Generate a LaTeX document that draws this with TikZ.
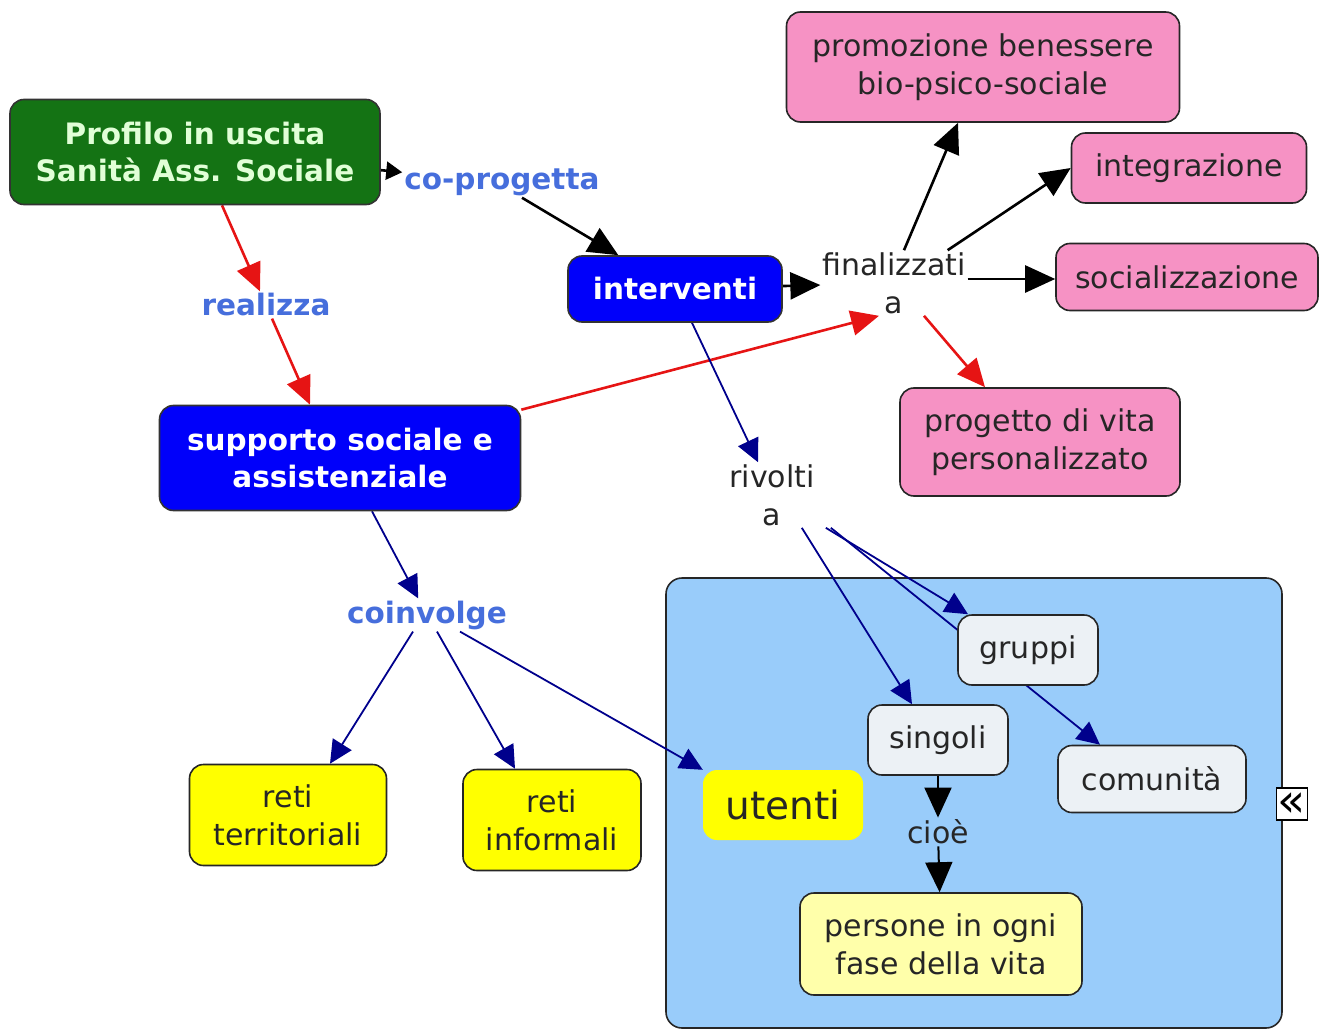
\documentclass[tikz,border=0pt]{standalone}
\usepackage{fontspec}
\setmainfont{DejaVu Sans}
\usepackage{tikz}
\usetikzlibrary{arrows.meta,positioning,backgrounds}
\definecolor{conceptgreen}{RGB}{20,115,20}
\definecolor{profiletext}{RGB}{225,255,215}
\definecolor{conceptblue}{RGB}{0,0,250}
\definecolor{verbblue}{RGB}{70,110,220}
\definecolor{goalpink}{RGB}{246,146,196}
\definecolor{netyellow}{RGB}{255,255,0}
\definecolor{lightyellow}{RGB}{255,255,170}
\definecolor{targetgrey}{RGB}{236,241,245}
\definecolor{groupblue}{RGB}{153,204,250}
\definecolor{arrowred}{RGB}{230,20,20}
\definecolor{arrownavy}{RGB}{0,0,140}

\begin{document}
\begin{tikzpicture}[x=1pt, y=-1pt,
    box/.style={draw=black!85, line width=1.6pt, rounded corners=14pt, align=center, inner sep=0pt, text=black!85, font=\fontsize{30}{38}\selectfont},
    darkbox/.style={box, draw=black!80, text=white, font=\fontsize{29.5}{37}\selectfont\bfseries},
    goal/.style={box, fill=goalpink},
    net/.style={box, fill=netyellow},
    target/.style={box, fill=targetgrey},
    link/.style={align=center, inner sep=2pt, text=black!85, font=\fontsize{30}{38}\selectfont},
    verb/.style={link, text=verbblue, font=\fontsize{29.5}{37}\selectfont\bfseries},
    blackarrow/.style={-{Triangle[length=30pt,width=27pt]}, line width=2.6pt, black},
    redarrow/.style={-{Triangle[length=28pt,width=25pt]}, line width=2.6pt, arrowred},
    navyarrow/.style={-{Triangle[length=23pt,width=22pt]}, line width=1.8pt, arrownavy}
]
    \useasboundingbox (0,0) rectangle (1320,1030);

    % Main concepts
    \node[darkbox, fill=conceptgreen, text=profiletext, minimum width=370pt, minimum height=105pt] (profilo) at (195,152) {Profilo in uscita\\Sanità Ass. Sociale};
    \node[verb] (coprog) at (502,182) {co-progetta};
    \node[darkbox, fill=conceptblue, minimum width=214pt, minimum height=66pt] (interventi) at (675,289) {interventi};
    \node[link] (fin) at (894,283) {finalizzati\\a};
    \node[verb] (realizza) at (266,305) {realizza};
    \node[darkbox, fill=conceptblue, minimum width=361pt, minimum height=105pt] (supporto) at (340,458) {supporto sociale e\\assistenziale};
    \node[link] (rivolti) at (772,495) {rivolti\\a};
    \node[verb] (coinvolge) at (427,615) {coinvolge};

    % Goals
    \node[goal, minimum width=393pt, minimum height=110pt] (promozione) at (983,67) {promozione benessere\\bio-psico-sociale};
    \node[goal, minimum width=235pt, minimum height=70pt] (integrazione) at (1189,168) {integrazione};
    \node[goal, minimum width=262pt, minimum height=67pt] (social) at (1187,277) {socializzazione};
    \node[goal, minimum width=280pt, minimum height=108pt] (progetto) at (1040,442) {progetto di vita\\personalizzato};

    % Networks
    \node[net, minimum width=197pt, minimum height=101pt] (retiterr) at (288,815) {reti\\territoriali};
    \node[net, minimum width=178pt, minimum height=101pt] (retiinf) at (552,820) {reti\\informali};

    % Users group
    \node[fill=netyellow, rounded corners=14pt, minimum width=160pt, minimum height=70pt, text=black!85, font=\fontsize{39}{44}\selectfont] (utenti) at (783,805) {utenti};
    \node[target, minimum width=140pt, minimum height=70pt] (gruppi) at (1028,650) {gruppi};
    \node[target, minimum width=140pt, minimum height=70pt] (singoli) at (938,740) {singoli};
    \node[target, minimum width=188pt, minimum height=67pt] (comunita) at (1152,779) {comunità};
    \node[link] (cioe) at (938,832) {cioè};
    \node[box, fill=lightyellow, minimum width=282pt, minimum height=102pt] (persone) at (941,944) {persone in ogni\\fase della vita};
    \node[draw=black, fill=white, line width=1.2pt, rounded corners=0pt, inner sep=0pt, minimum width=31pt, minimum height=32pt, text height=24pt, text depth=0pt, font=\fontsize{46}{46}\selectfont] (collapse) at (1292,804) {«};

    \begin{scope}[on background layer]
        \node[draw=black!85, line width=1.6pt, fill=groupblue, rounded corners=16pt, minimum width=616pt, minimum height=450pt] (gruppo) at (974,803) {};

        % Links
        \draw[blackarrow, -{Triangle[length=16pt,width=18pt]}] (profilo) -- (coprog);
        \draw[blackarrow] ([xshift=20pt]coprog.south) -- (interventi);
        \draw[blackarrow] (interventi) -- (fin);
        \draw[blackarrow] ([xshift=10pt]fin.north) -- ([xshift=-25pt]promozione.south);
        \draw[blackarrow] ([xshift=-20pt]fin.north east) -- (integrazione.west);
        \draw[blackarrow] ([yshift=4pt]fin.east) -- ([yshift=4pt]fin.east -| social.west);
        \draw[redarrow] ([xshift=30pt]fin.south) -- ([xshift=-55pt]progetto.north);
        \draw[redarrow] ([xshift=27pt]profilo.south) -- (realizza);
        \draw[redarrow] (realizza) -- ([xshift=-30pt]supporto.north);
        \draw[redarrow] ([yshift=-5pt]supporto.north east) -- ([xshift=-15pt]fin.south);
        \draw[navyarrow] ([xshift=17pt]interventi.south) -- ([xshift=-14pt]rivolti.north);
        \draw[navyarrow] ([xshift=32pt]supporto.south) -- (coinvolge);
        \draw[navyarrow] ([xshift=-14pt]coinvolge.south) -- ([xshift=42pt]retiterr.north);
        \draw[navyarrow] ([xshift=10pt]coinvolge.south) -- ([xshift=-37pt]retiinf.north);
        \draw[navyarrow] ([xshift=33pt]coinvolge.south) -- (utenti.north west);
        \draw[navyarrow] ([xshift=-15pt]rivolti.south east) -- ([xshift=-26pt]singoli.north);
        \draw[navyarrow] ([xshift=9pt]rivolti.south east) -- ([xshift=-60pt]gruppi.north);
        \draw[navyarrow] ([xshift=14pt]rivolti.south east) -- ([xshift=-52pt]comunita.north);
        \draw[blackarrow, line width=2pt] (singoli) -- (cioe);
        \draw[blackarrow, line width=2pt] (cioe) -- (persone);
    \end{scope}
\end{tikzpicture}
\end{document}
